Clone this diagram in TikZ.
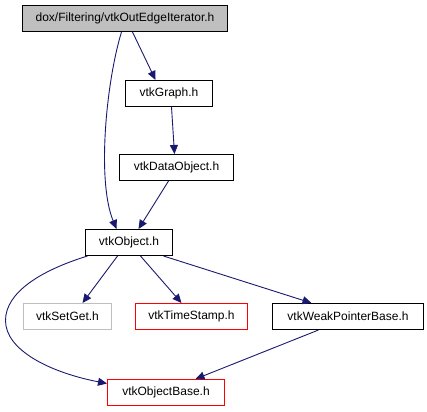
\documentclass[tikz,border=0pt]{standalone}
\usepackage{fontspec}
\setmainfont{Liberation Sans}
\usetikzlibrary{arrows.meta}
\definecolor{edgeblue}{HTML}{191970}
\definecolor{boxgray}{HTML}{BFBFBF}
\definecolor{boxred}{RGB}{255,0,0}
\tikzset{
  box/.style={draw=black, rectangle, inner sep=0pt, minimum height=26pt, font=\fontsize{12}{14}\selectfont, line width=1pt},
  redbox/.style={box, draw=boxred},
  graybox/.style={box, draw=boxgray},
  edge/.style={draw=edgeblue, line width=0.9pt, -{Triangle[length=9pt,width=8pt]}},
}
\begin{document}
\begin{tikzpicture}[x=1pt,y=-1pt]
\useasboundingbox (-0.5,-0.5) rectangle (426.5,410.5);
\node[box, fill=boxgray, minimum width=205pt] (top) at (124.5,18) {dox/Filtering/vtkOutEdgeIterator.h};
\node[box, minimum width=87pt] (graph) at (168.5,93) {vtkGraph.h};
\node[box, minimum width=114pt] (dobj) at (176,167) {vtkDataObject.h};
\node[box, minimum width=87pt] (obj) at (128.5,242) {vtkObject.h};
\node[graybox, minimum width=88pt] (setget) at (67,316) {vtkSetGet.h};
\node[redbox, minimum width=112pt] (tstamp) at (191,316) {vtkTimeStamp.h};
\node[box, minimum width=151pt] (weak) at (347.5,316) {vtkWeakPointerBase.h};
\node[redbox, minimum width=117pt] (obase) at (165.5,392) {vtkObjectBase.h};

\draw[edge] ([xshift=7.5pt]top.south) -- ([xshift=-13.5pt]graph.north);
\draw[edge] ([xshift=-3.5pt]top.south) .. controls (106,80) and (96,180) .. ([xshift=-12.5pt]obj.north);
\draw[edge] ([xshift=2.5pt]graph.south) -- ([xshift=-2pt]dobj.north);
\draw[edge] ([xshift=-8pt]dobj.south) -- ([xshift=9.5pt]obj.north);
\draw[edge] ([xshift=-11.5pt]obj.south) -- ([xshift=15pt]setget.north);
\draw[edge] ([xshift=11.5pt]obj.south) -- ([xshift=-10pt]tstamp.north);
\draw[edge] ([xshift=34.5pt]obj.south) -- ([xshift=-36.5pt]weak.north);
\draw[edge] ([xshift=-41.5pt]obj.south) .. controls (40,270) and (5,292) .. (5,320) .. controls (5,350) and (50,372) .. ([yshift=9pt]obase.west);
\draw[edge] ([xshift=-29.5pt]weak.south) -- ([xshift=29.5pt]obase.north);
\end{tikzpicture}
\end{document}
